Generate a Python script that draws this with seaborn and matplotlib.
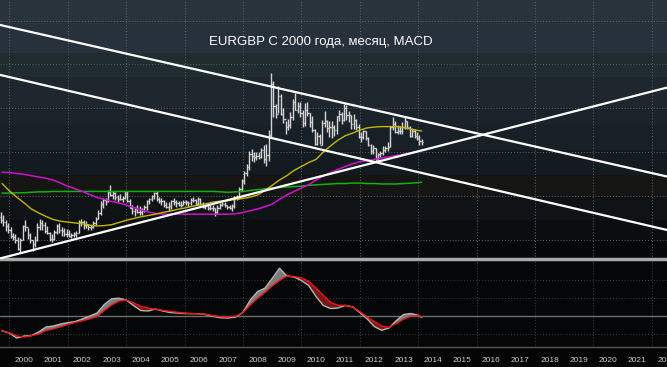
import numpy as np
import pandas as pd
import matplotlib
matplotlib.use("Agg")
import matplotlib.pyplot as plt
import seaborn as sns

sns.set_theme(style="dark")
plt.rcParams['font.family'] = ['Liberation Sans', 'DejaVu Sans']

# monthly EURGBP bars from Sep 1999, open = previous close
first_open = 0.6520
high = [.6620, .6560, .6440, .6380,
        .6290, .6140, .6120, .6050, .6040, .6340, .6450, .6260, .6160, .6000, .6080, .6380,
        .6460, .6440, .6400, .6300, .6180, .6120, .6230, .6350, .6380, .6290, .6260, .6250,
        .6230, .6150, .6180, .6190, .6450, .6470, .6450, .6420, .6360, .6330, .6420, .6520,
        .6680, .6870, .6960, .6950, .7140, .7250, .7120, .7080, .7010, .7050, .7000, .7110,
        .7100, .6930, .6780, .6750, .6800, .6760, .6720, .6790, .6910, .6960, .7020, .7090,
        .7100, .6970, .6950, .6900, .6860, .6850, .6900, .6940, .6900, .6870, .6880, .6900,
        .6900, .6880, .6950, .6980, .6930, .6970, .6950, .6850, .6800, .6820, .6790, .6780,
        .6720, .6800, .6830, .6860, .6850, .6800, .6800, .6820, .6990, .7010, .7200, .7380,
        .7560, .7730, .8030, .8070, .8000, .7990, .7990, .8080, .8150, .8190, .8500, .9800,
        .9620, .9100, .9500, .9320, .9000, .8700, .8760, .8920, .9200, .9350, .9130, .9130,
        .8950, .9120, .9150, .8900, .8820, .8520, .8450, .8400, .8720, .8930, .8720, .8700,
        .8700, .8620, .8820, .8950, .8920, .9090, .9080, .8930, .8840, .8860, .8750, .8650,
        .8450, .8500, .8470, .8340, .8180, .8160, .8100, .7980, .8030, .8140, .8130, .8220,
        .8600, .8790, .8710, .8620, .8600, .8680, .8810, .8700, .8600, .8550, .8520, .8450,
        .8390, .8290]
low = [.6380, .6320, .6200, .6160,
       .6040, .5980, .5930, .5760, .5700, .6000, .6200, .6020, .5920, .5740, .5840, .5960,
       .6220, .6230, .6160, .6130, .5960, .5950, .5990, .6120, .6150, .6090, .6080, .6070,
       .6050, .6030, .6050, .6060, .6140, .6300, .6250, .6260, .6220, .6220, .6260, .6340,
       .6460, .6560, .6720, .6800, .6860, .6990, .6920, .6900, .6840, .6900, .6860, .6930,
       .6850, .6710, .6580, .6540, .6600, .6570, .6570, .6620, .6680, .6820, .6880, .6920,
       .6880, .6830, .6800, .6750, .6730, .6650, .6700, .6790, .6750, .6770, .6750, .6780,
       .6780, .6740, .6800, .6850, .6780, .6790, .6780, .6720, .6700, .6680, .6680, .6650,
       .6540, .6580, .6700, .6770, .6740, .6700, .6690, .6650, .6730, .6900, .6920, .7100,
       .7270, .7450, .7600, .7790, .7770, .7820, .7830, .7860, .7750, .7680, .7800, .8330,
       .8800, .8780, .8900, .8850, .8670, .8400, .8500, .8540, .8730, .8950, .8880, .8800,
       .8580, .8600, .8820, .8560, .8460, .8160, .8170, .8180, .8150, .8580, .8450, .8350,
       .8330, .8360, .8420, .8700, .8630, .8700, .8720, .8680, .8530, .8530, .8500, .8310,
       .8220, .8290, .8270, .8140, .7950, .7950, .7790, .7800, .7880, .7920, .7990, .8020,
       .8120, .8500, .8440, .8400, .8410, .8420, .8520, .8530, .8340, .8340, .8320, .8270,
       .8160, .8160]
close = [.6440, .6400, .6300, .6230,
         .6080, .6050, .6000, .5790, .6000, .6300, .6280, .6100, .5980, .5900, .5980, .6290,
         .6370, .6340, .6200, .6160, .6020, .6010, .6170, .6300, .6230, .6200, .6130, .6130,
         .6080, .6110, .6120, .6150, .6400, .6400, .6330, .6340, .6290, .6290, .6380, .6480,
         .6600, .6820, .6900, .6890, .7080, .7020, .7060, .6980, .6920, .6930, .6950, .7050,
         .6880, .6730, .6650, .6700, .6640, .6620, .6680, .6750, .6880, .6930, .7000, .7060,
         .6930, .6880, .6880, .6790, .6750, .6760, .6880, .6850, .6830, .6800, .6800, .6860,
         .6850, .6840, .6900, .6900, .6820, .6920, .6820, .6750, .6770, .6710, .6730, .6720,
         .6620, .6720, .6800, .6820, .6790, .6740, .6730, .6760, .6970, .6960, .7150, .7340,
         .7530, .7650, .7960, .7900, .7880, .7900, .7890, .8050, .7850, .7930, .8380, .9560,
         .9060, .8860, .9270, .8870, .8750, .8560, .8620, .8800, .9140, .8970, .9050, .8880,
         .8670, .8950, .8900, .8680, .8500, .8180, .8370, .8170, .8660, .8700, .8540, .8570,
         .8580, .8500, .8820, .8870, .8720, .9000, .8840, .8840, .8630, .8730, .8560, .8350,
         .8340, .8470, .8330, .8160, .8020, .8080, .7850, .7950, .7970, .8050, .8090, .8120,
         .8560, .8630, .8450, .8470, .8470, .8560, .8700, .8580, .8360, .8480, .8360, .8310,
         .8240, .8220]

# quarterly readings of the indicator lines
ma_t = list(np.arange(1999.75, 2014.01, 0.25)) + [2014.12]
ma_yellow = [.728, .711, .697, .684, .670, .661, .653, .646, .642, .640,
             .638, .636, .633, .631, .632, .634, .639, .644, .648, .652,
             .655, .658, .662, .665, .669, .672, .676, .679, .682, .686,
             .688, .689, .692, .694, .697, .702, .712, .724, .736, .746,
             .758, .767, .776, .783, .800, .814, .827, .837, .843, .850,
             .855, .857, .858, .858, .858, .856, .852, .849, .848]
ma_magenta = [.754, .753, .751, .749, .746, .743, .740, .736, .729, .722,
              .716, .710, .703, .696, .692, .687, .684, .679, .673, .668,
              .663, .660, .658, .658, .658, .658, .658, .658, .658, .658,
              .658, .658, .659, .662, .666, .670, .675, .681, .692, .702,
              .710, .718, .725, .736, .745, .753, .760, .767, .773, .778,
              .780, .783, .786, .789, .792, .795, .798, .802, .805]
ma_green = [.706, .706, .707, .707, .708, .709, .709, .710, .710, .710,
            .710, .710, .710, .710, .710, .710, .710, .710, .710, .710,
            .710, .710, .710, .710, .710, .710, .710, .710, .710, .710,
            .709, .708, .709, .710, .712, .714, .716, .718, .719, .720,
            .721, .722, .724, .725, .726, .727, .728, .728, .729, .729,
            .728, .728, .727, .727, .727, .728, .729, .730, .731]
macd = [-.0164, -.0190, -.0244, -.0222, -.0217, -.0178, -.0122, -.0111, -.0089, -.0074,
        -.0061, -.0033, .0000, .0033, .0128, .0191, .0198, .0178, .0117, .0061,
        .0056, .0078, .0056, .0039, .0033, .0028, .0026, .0026, .0014, -.0006,
        -.0020, -.0022, -.0011, .0041, .0178, .0272, .0309, .0417, .0531, .0444,
        .0433, .0394, .0339, .0217, .0117, .0083, .0089, .0117, .0102, .0039,
        -.0031, -.0117, -.0159, -.0133, -.0050, .0017, .0028, .0008, -.0017]
signal = [-.0167, -.0185, -.0222, -.0233, -.0219, -.0200, -.0161, -.0144, -.0120, -.0094,
          -.0072, -.0052, -.0033, -.0006, .0061, .0122, .0164, .0180, .0147, .0108,
          .0089, .0074, .0063, .0052, .0042, .0033, .0027, .0024, .0019, .0002,
          -.0009, -.0008, -.0003, .0039, .0122, .0197, .0261, .0333, .0394, .0444,
          .0439, .0422, .0386, .0311, .0228, .0152, .0119, .0119, .0100, .0050,
          -.0011, -.0064, -.0111, -.0126, -.0082, -.0036, -.0002, .0006, -.0011]

# hand drawn trend lines (start / end)
trend_t = [1999.68, 2022.52]
upper_trend = [1.090, 0.744]
channel_trend = [0.976, 0.622]
rising_trend = [0.557, 0.947]

years = list(range(2000, 2023))
title = "EURGBP С 2000 года, месяц, MACD"

dates = pd.date_range("1999-09-01", periods=len(close), freq="MS")
t = np.array(dates.year + (dates.month - 0.5) / 12)
opens = [first_open] + close[:-1]
x_lim = (1999.678, 2022.52)

fig = plt.figure(figsize=(6.67, 3.67), dpi=100, facecolor="#050505")
H = 367
rect_price = [0, 1 - 259 / H, 1, 259 / H]
rect_macd = [0, 1 - 347 / H, 1, 86 / H]

# background gradient of the price panel
bands = ["#29333c", "#27313b", "#1f2c30", "#1d272d", "#1b232a", "#172027",
         "#141b20", "#151514", "#101315", "#0b0d0f", "#060709"]
band_h = [22, 31, 24, 31, 17, 25, 25, 22, 23, 20, 19]
rows = []
for c, h in zip(bands, band_h):
    rows += [matplotlib.colors.to_rgb(c)] * h
bg = np.array(rows).reshape(-1, 1, 3)
bg_ax = fig.add_axes(rect_price, zorder=0)
bg_ax.imshow(bg, aspect="auto", extent=[0, 1, 0, 1])
bg_ax.axis("off")

ax = fig.add_axes(rect_price, zorder=1)
ax.patch.set_alpha(0)
ax.set_xlim(*x_lim)
ax.set_ylim(0.5557, 1.147)
ax.set_yticks([0.6, 0.7, 0.8, 0.9, 1.0, 1.1])
ax.set_xticks(years[::2])
ax.grid(True, color="#5a6570", linestyle=(0, (1, 2)), linewidth=0.7)
ax.tick_params(length=0, labelleft=False, labelbottom=False)
for s in ["top", "left", "right"]:
    ax.spines[s].set_visible(False)
ax.spines["bottom"].set_color("#a8a8a8")
ax.spines["bottom"].set_linewidth(2.5)

bar_col = "#d4d4d4"
ax.vlines(t, low, high, color=bar_col, lw=1.0, zorder=3)
ax.hlines(opens, t - 0.04, t, color=bar_col, lw=1.0, zorder=3)
ax.hlines(close, t, t + 0.04, color=bar_col, lw=1.0, zorder=3)

sns.lineplot(x=ma_t, y=ma_green, ax=ax, color="#12b012", lw=1.1, sort=False, estimator=None, zorder=4)
sns.lineplot(x=ma_t, y=ma_magenta, ax=ax, color="#d010d0", lw=1.1, sort=False, estimator=None, zorder=4)
sns.lineplot(x=ma_t, y=ma_yellow, ax=ax, color="#c4b800", lw=1.0, sort=False, estimator=None, zorder=4)

for line in [upper_trend, channel_trend, rising_trend]:
    sns.lineplot(x=trend_t, y=line, ax=ax, color="white", lw=1.6, sort=False, estimator=None, zorder=5)

ax.text(0.481, 0.838, title, transform=ax.transAxes, ha="center", va="center",
        color="white", fontsize=9.5)
ax.set_xlabel("")
ax.set_ylabel("")

# MACD panel
mx = fig.add_axes(rect_macd, facecolor="#050607")
mx.set_xlim(*x_lim)
mx.set_ylim(-0.0344, 0.0611)
for s in ["top", "left", "right"]:
    mx.spines[s].set_visible(False)
mx.spines["bottom"].set_color("#555555")
mx.spines["bottom"].set_linewidth(1.0)
for yv in [-0.02, 0.02, 0.04]:
    mx.axhline(yv, color="#3e3e3e", linestyle=(0, (1, 2)), lw=0.7)
for yr in years[::2]:
    mx.axvline(yr, color="#3e3e3e", linestyle=(0, (1, 2)), lw=0.7)
mx.axhline(0, color="#6e6e6e", lw=1.0)

m = np.array(macd)
sg = np.array(signal)
mx.fill_between(ma_t, m, sg, where=m >= sg, interpolate=True, color="#7c7c7c", lw=0, zorder=3)
mx.fill_between(ma_t, m, sg, where=m < sg, interpolate=True, color="#7a1818", lw=0, zorder=3)
sns.lineplot(x=ma_t, y=macd, ax=mx, color="#b4b4b4", lw=1.0, sort=False, estimator=None, zorder=4)
sns.lineplot(x=ma_t, y=signal, ax=mx, color="#ee1515", lw=1.0, sort=False, estimator=None, zorder=5)

mx.set_yticks([])
mx.set_xticks(years)
mx.set_xticklabels([])
mx.tick_params(axis="x", which="major", direction="out", length=14.5, width=0.8, color="#8c8c8c")
mx.set_xticks([y + 0.5 for y in years], minor=True)
mx.set_xticklabels([str(y) for y in years], minor=True)
mx.tick_params(axis="x", which="minor", length=0, pad=7.5, labelsize=6, labelcolor="#c8c8c8")
mx.set_xlabel("")
mx.set_ylabel("")

fig.savefig("out.png", dpi=100, facecolor=fig.get_facecolor())
